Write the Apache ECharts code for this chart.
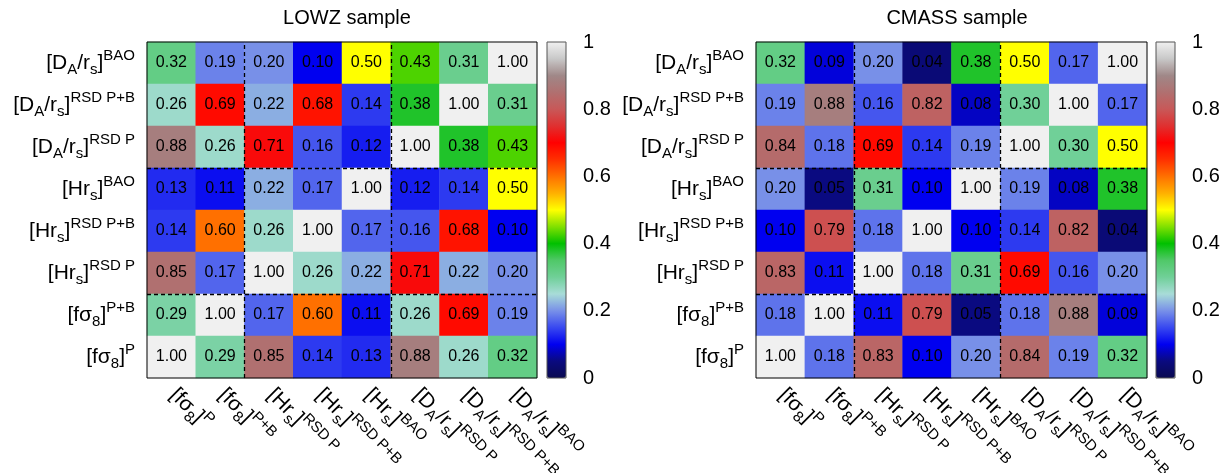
<!DOCTYPE html>
<html><head><meta charset="utf-8">
<script src="https://cdn.jsdelivr.net/npm/echarts@6/dist/echarts.min.js"></script>
<style>html,body{margin:0;padding:0;background:#fff}#c{width:1229px;height:473px}</style>
</head><body><div id="c"></div>
<script>
// categories, bottom-to-top on y and left-to-right on x
const categories = ['fs8 P','fs8 P+B','Hrs RSD P','Hrs RSD P+B','Hrs BAO','DA/rs RSD P','DA/rs RSD P+B','DA/rs BAO'];
const categoryLabels = [
  '{n|[fσ}{sub|8}{n|]}{sup|P}',
  '{n|[fσ}{sub|8}{n|]}{sup|P+B}',
  '{n|[Hr}{sub|s}{n|]}{sup|RSD P}',
  '{n|[Hr}{sub|s}{n|]}{sup|RSD P+B}',
  '{n|[Hr}{sub|s}{n|]}{sup|BAO}',
  '{n|[D}{sub|A}{n|/r}{sub|s}{n|]}{sup|RSD P}',
  '{n|[D}{sub|A}{n|/r}{sub|s}{n|]}{sup|RSD P+B}',
  '{n|[D}{sub|A}{n|/r}{sub|s}{n|]}{sup|BAO}'
];
// rows listed top to bottom (DA/rs BAO ... fs8 P), columns left to right
const lowzRows = [
  [0.32,0.19,0.20,0.10,0.50,0.43,0.31,1.00],
  [0.26,0.69,0.22,0.68,0.14,0.38,1.00,0.31],
  [0.88,0.26,0.71,0.16,0.12,1.00,0.38,0.43],
  [0.13,0.11,0.22,0.17,1.00,0.12,0.14,0.50],
  [0.14,0.60,0.26,1.00,0.17,0.16,0.68,0.10],
  [0.85,0.17,1.00,0.26,0.22,0.71,0.22,0.20],
  [0.29,1.00,0.17,0.60,0.11,0.26,0.69,0.19],
  [1.00,0.29,0.85,0.14,0.13,0.88,0.26,0.32]
];
const cmassRows = [
  [0.32,0.09,0.20,0.04,0.38,0.50,0.17,1.00],
  [0.19,0.88,0.16,0.82,0.08,0.30,1.00,0.17],
  [0.84,0.18,0.69,0.14,0.19,1.00,0.30,0.50],
  [0.20,0.05,0.31,0.10,1.00,0.19,0.08,0.38],
  [0.10,0.79,0.18,1.00,0.10,0.14,0.82,0.04],
  [0.83,0.11,1.00,0.18,0.31,0.69,0.16,0.20],
  [0.18,1.00,0.11,0.79,0.05,0.18,0.88,0.09],
  [1.00,0.18,0.83,0.10,0.20,0.84,0.19,0.32]
];
// block boundaries (in category units, counted from left / bottom)
const blockEdges = [2, 5];
const titles = ['LOWZ sample','CMASS sample'];
// palette stops at 0, 0.05, ..., 1
const palette = ['#0a0a50','#0a0a80','#0000f0','#3848f0','#7890e8','#a8dcd8','#70d098','#50c868','#00c000','#80e000',
  '#ffff00','#ffb000','#ff7000','#ff3000','#ff0000','#e03030','#c85858','#b07070','#a08888','#c8c8c8','#f0f0f0'];

const FONT = 'Liberation Sans, Arial, Helvetica, sans-serif';
const N = categories.length;
function toData(rows){
  const d = [];
  rows.forEach((row, r) => row.forEach((v, c) => d.push([c, rows.length - 1 - r, v])));
  return d;
}
function edgeLines(){
  const d = [];
  blockEdges.forEach(e => {
    d.push({coords: [[e, 0], [e, N]]});
    d.push({coords: [[0, e], [N, e]]});
  });
  return d;
}
const rich = {
  n: {fontSize: 21, fontFamily: FONT, color: '#000', lineHeight: 29, verticalAlign: 'middle'},
  sup: {fontSize: 15, fontFamily: FONT, color: '#000', height: 15, lineHeight: 15, verticalAlign: 'top'},
  sub: {fontSize: 15, fontFamily: FONT, color: '#000', height: 15, lineHeight: 15, verticalAlign: 'bottom'}
};

const panels = [
  {left: 147, width: 390, cbLeft: 547, title: 342, rows: lowzRows},
  {left: 756, width: 391, cbLeft: 1156, title: 952, rows: cmassRows}
];
const grid = [], xAxis = [], yAxis = [], series = [], visualMap = [], title = [];
panels.forEach((p, k) => {
  const gMain = grid.length;
  grid.push({left: p.left, top: 42, width: p.width, height: 336, containLabel: false, outerBoundsMode: 'none',
    show: true, borderColor: '#000', borderWidth: 1, backgroundColor: 'transparent', z: 6});
  const gBar = grid.length;
  grid.push({left: p.cbLeft, top: 42, width: 19, height: 336, containLabel: false, outerBoundsMode: 'none',
    show: true, borderColor: '#555', borderWidth: 1, backgroundColor: 'transparent', z: 10});

  const xCat = xAxis.length;
  xAxis.push({gridIndex: gMain, type: 'category', data: categories,
    axisLine: {show: false}, axisTick: {show: false}, splitLine: {show: false},
    axisLabel: {rotate: -45, margin: 3, padding: [13, 0, 0, 9], interval: 0, formatter: (v, i) => categoryLabels[i], rich}});
  const yCat = yAxis.length;
  yAxis.push({gridIndex: gMain, type: 'category', data: categories,
    axisLine: {show: false}, axisTick: {show: false}, splitLine: {show: false},
    axisLabel: {margin: 12, interval: 0, formatter: (v, i) => categoryLabels[i], rich}});

  const xOv = xAxis.length;
  xAxis.push({gridIndex: gMain, type: 'value', min: 0, max: N, show: false});
  const yOv = yAxis.length;
  yAxis.push({gridIndex: gMain, type: 'value', min: 0, max: N, show: false});

  xAxis.push({gridIndex: gBar, type: 'value', show: false});
  yAxis.push({gridIndex: gBar, type: 'value', min: 0, max: 1, interval: 0.2, position: 'right',
    axisLine: {show: false}, axisTick: {show: false}, splitLine: {show: false},
    axisLabel: {margin: 17, fontSize: 20, fontFamily: FONT, color: '#000',
      formatter: v => (v === 0 ? '0' : v === 1 ? '1' : v.toFixed(1))}});

  const sIdx = series.length;
  series.push({type: 'heatmap', xAxisIndex: xCat, yAxisIndex: yCat, data: toData(p.rows),
    label: {show: true, fontSize: 16, fontFamily: FONT, color: '#000', textBorderWidth: 0, textBorderColor: 'transparent',
      formatter: q => q.value[2].toFixed(2)},
    emphasis: {disabled: true}, itemStyle: {borderWidth: 0}});
  series.push({type: 'lines', coordinateSystem: 'cartesian2d', xAxisIndex: xOv, yAxisIndex: yOv, z: 5,
    silent: true, data: edgeLines(),
    lineStyle: {color: '#000', width: 1.3, type: [4, 3], opacity: 1}});
  visualMap.push({type: 'continuous', seriesIndex: sIdx, min: 0, max: 1, calculable: false, orient: 'vertical',
    left: p.cbLeft, top: 42, itemWidth: 19, itemHeight: 336, padding: 0, text: null, showLabel: false,
    inRange: {color: palette}});
  title.push({text: titles[k], left: p.title, top: 3, textAlign: 'center',
    textStyle: {fontSize: 20, fontWeight: 'normal', fontFamily: FONT, color: '#000'}});
});

const chart = echarts.init(document.getElementById('c'), null, {renderer: 'canvas'});
chart.setOption({animation: false, backgroundColor: '#fff', title, grid, xAxis, yAxis, visualMap, series});
</script></body></html>
